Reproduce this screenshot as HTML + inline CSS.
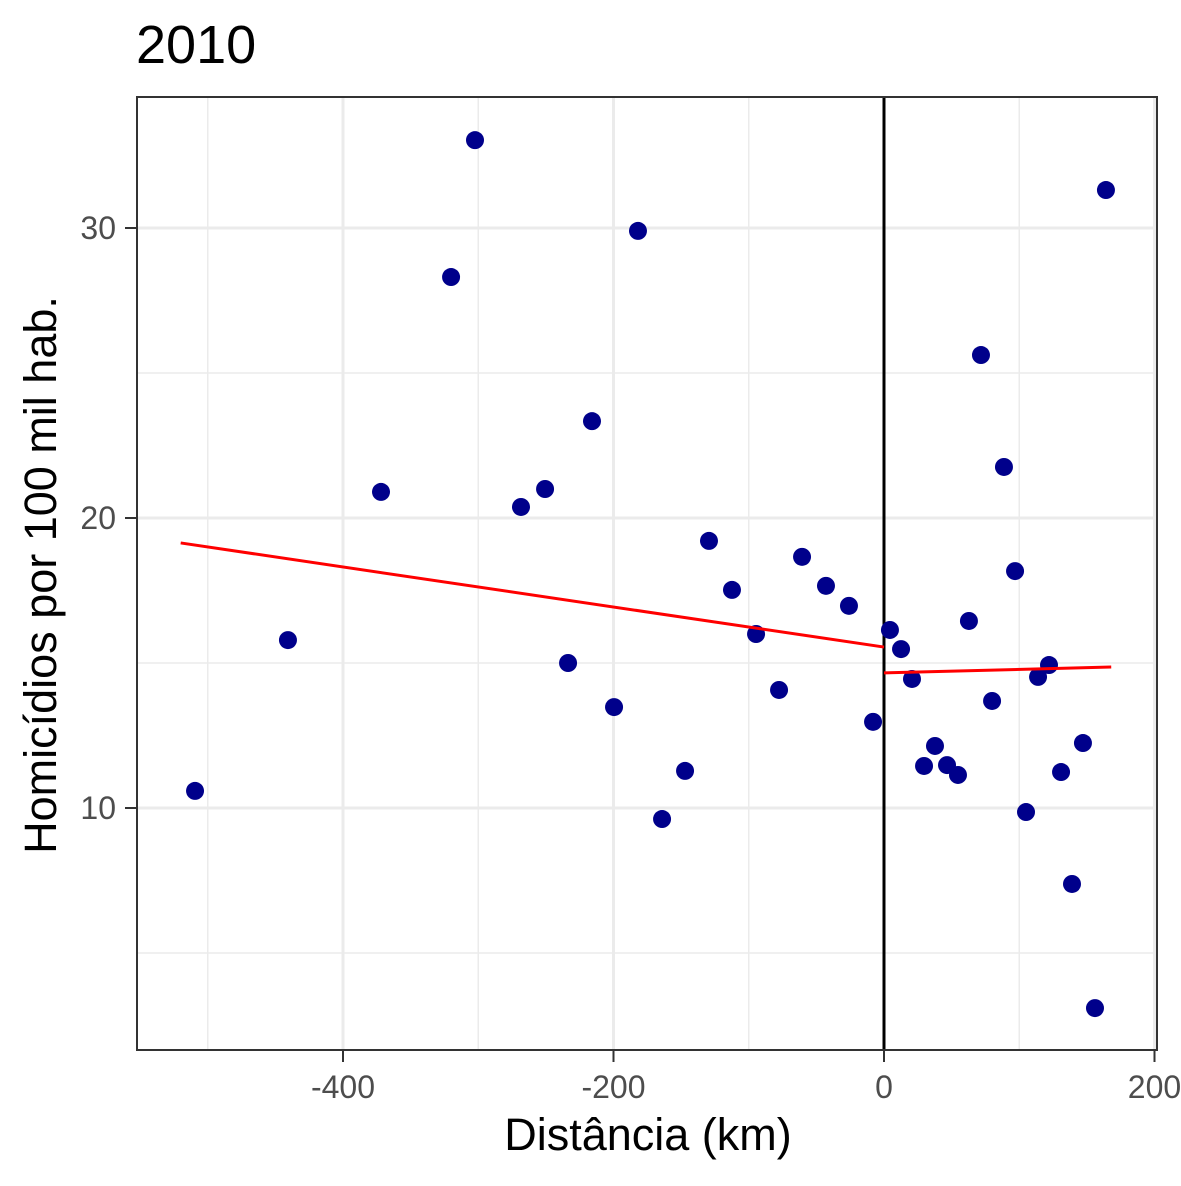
<!DOCTYPE html>
<html><head><meta charset="utf-8"><style>
body{margin:0;background:#fff}
svg text{font-family:"Liberation Sans",Arial,sans-serif}
</style></head><body>
<svg id="chart" width="1181" height="1181" xmlns="http://www.w3.org/2000/svg">
<rect width="1181" height="1181" fill="#fff"/>
<text x="136" y="63" font-size="54" fill="#000">2010</text>
<g id="grid"></g>
<g id="marks"></g>
<rect x="137" y="97" width="1020" height="953" fill="none" stroke="#333" stroke-width="2"/>
<g id="axes"></g>
<text x="648" y="1150" font-size="45" text-anchor="middle" fill="#000">Distância (km)</text>
<text transform="translate(56,575) rotate(-90)" font-size="45" text-anchor="middle" fill="#000">Homicídios por 100 mil hab.</text>
</svg>
<script>
const xs=[-509.4,-440.7,-371.9,-320.1,-302.4,-268.4,-250.6,-233.6,-215.9,-199.6,-181.9,-164.1,-147.1,-129.4,-112.4,-94.6,-77.6,-60.6,-42.9,-25.9,-8.1,4.4,12.6,20.7,29.6,37.7,46.6,54.7,62.8,71.7,79.9,88.7,96.9,105,113.9,122,130.9,147.1,139,156,164.1];
const ys=[10.59,15.79,20.9,28.31,33.03,20.38,21.0,15.0,23.34,13.48,29.9,9.62,11.28,19.21,17.52,16.0,14.07,18.66,17.66,16.97,12.97,16.14,15.48,14.45,11.45,12.14,11.48,11.14,16.45,25.62,13.69,21.76,18.17,9.86,14.52,14.93,11.24,12.24,7.38,3.1,31.31];
const fitLeft=[[-520,19.14],[0,15.55]];
const fitRight=[[0,14.66],[168,14.86]];
const xTicks=[-400,-200,0,200];
const xMinor=[-500,-300,-100,100];
const yTicks=[10,20,30];
const yMinor=[5,15,25];
const X=v=>884+v*1.3525, Y=v=>1098-v*29;
const NS="http://www.w3.org/2000/svg";
function mk(parent,tag,attrs){const e=document.createElementNS(NS,tag);for(const k in attrs)e.setAttribute(k,attrs[k]);document.getElementById(parent).appendChild(e);return e;}
xMinor.forEach(v=>{const e=mk('grid','line',{x1:X(v),x2:X(v),y1:97,y2:1050,stroke:'#ebebeb','stroke-width':1.5});

});
yMinor.forEach(v=>{const e=mk('grid','line',{x1:137,x2:1157,y1:Y(v),y2:Y(v),stroke:'#ebebeb','stroke-width':1.5});

});
xTicks.forEach(v=>{const e=mk('grid','line',{x1:X(v),x2:X(v),y1:97,y2:1050,stroke:'#ebebeb','stroke-width':3});


const t=mk('axes','line',{x1:X(v),x2:X(v),y1:1050,y2:1062,stroke:'#333','stroke-width':2});


const l=mk('axes','text',{x:X(v),y:1098,'font-size':32,'text-anchor':'middle',fill:'#4d4d4d'});l.textContent=v;

});
yTicks.forEach(v=>{const e=mk('grid','line',{x1:137,x2:1157,y1:Y(v),y2:Y(v),stroke:'#ebebeb','stroke-width':3});


const t=mk('axes','line',{x1:125,x2:137,y1:Y(v),y2:Y(v),stroke:'#333','stroke-width':2});


const l=mk('axes','text',{x:116,y:Y(v)+11,'font-size':32,'text-anchor':'end',fill:'#4d4d4d'});l.textContent=v;

});
const cut=mk('marks','line',{x1:X(0),x2:X(0),y1:97,y2:1050,stroke:'#000','stroke-width':3});


xs.forEach((v,i)=>{const c=mk('marks','circle',{cx:X(v),cy:Y(ys[i]),r:9,fill:'#00008b'});

});
[fitLeft,fitRight].forEach((f,i)=>{const l=mk('marks','line',{x1:X(f[0][0]),y1:Y(f[0][1]),x2:X(f[1][0]),y2:Y(f[1][1]),stroke:'#ff0000','stroke-width':3});

});
</script>
</body></html>
